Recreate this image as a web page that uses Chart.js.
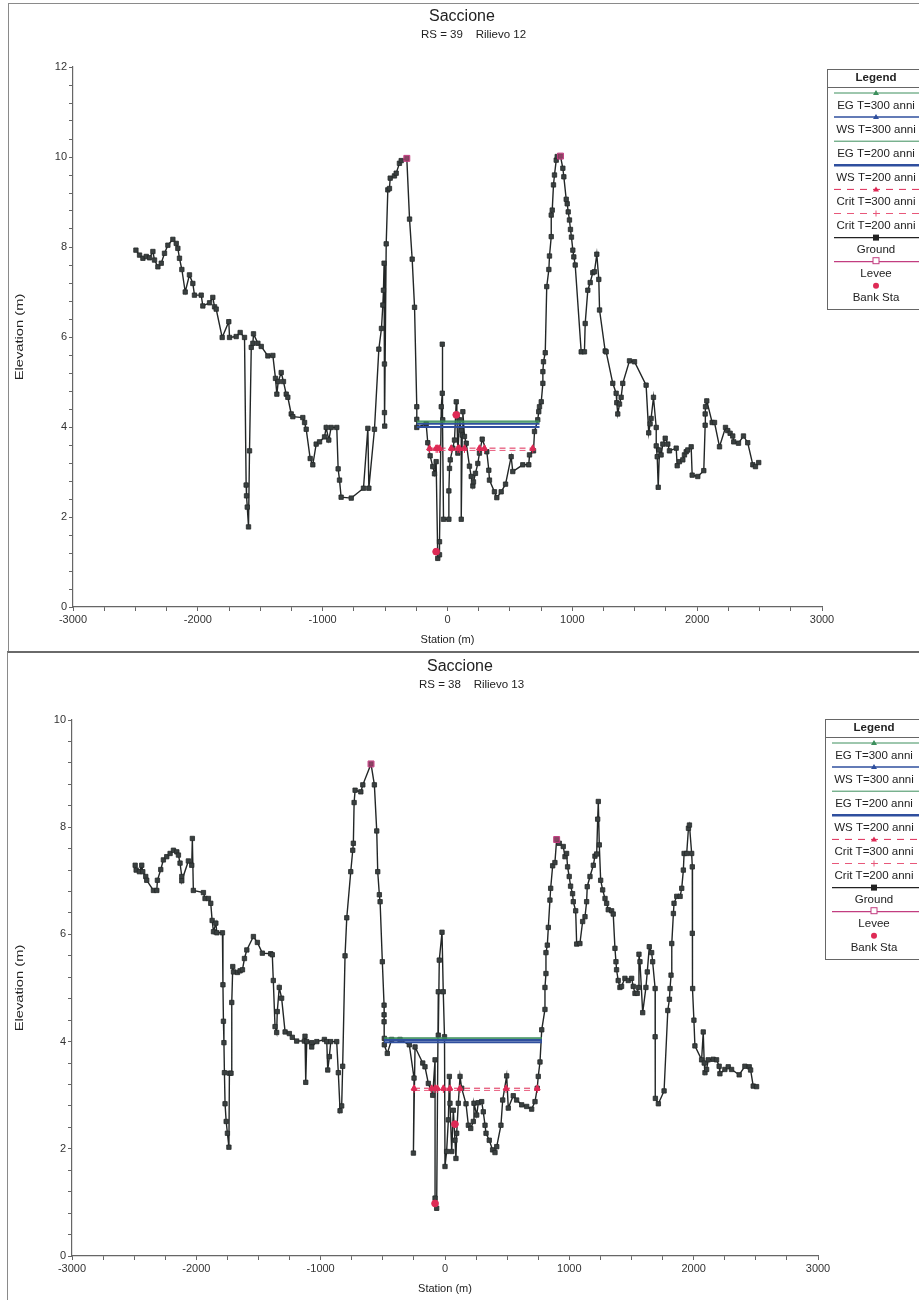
<!DOCTYPE html>
<html>
<head>
<meta charset="utf-8">
<script src="https://cdn.jsdelivr.net/npm/chart.js"></script>
<style>
  body { margin: 0; background: #fff; width: 919px; height: 1300px; overflow: hidden; position: relative; }
  .panel { position: absolute; border: 1px solid #8a8a8a; border-right: none; }
  canvas { position: absolute; left: 0; }
</style>
</head>
<body>
<div class="panel" style="left:8px;top:3px;width:911px;height:647px"></div>
<div class="panel" style="left:7px;top:651px;width:912px;height:660px;border-top:2px solid #6a6a6a"></div>
<canvas id="chartTop" width="919" height="650" style="top:0"></canvas>
<canvas id="chartBottom" width="919" height="650" style="top:650px"></canvas>
<script>
// ---- RS = 39, Rilievo 12 ----
const groundStaTop = [
  -2496, -2467, -2440, -2413, -2387, -2360, -2347, -2320, -2293, -2267, -2240, -2200, -2173, -2160, -2147, -2128,
  -2101, -2067, -2040, -2027, -1973, -1960, -1906, -1880, -1866, -1853, -1805, -1752, -1746, -1693, -1661, -1626,
  -1613, -1610, -1604, -1594, -1586, -1572, -1559, -1554, -1519, -1492, -1439, -1399, -1378, -1367, -1356, -1332,
  -1314, -1292, -1279, -1252, -1239, -1159, -1145, -1132, -1100, -1079, -1052, -1025, -985, -972, -951, -932,
  -887, -876, -865, -852, -771, -673, -638, -630, -585, -550, -529, -518, -513, -508, -505, -505, -503,
  -491, -478, -465, -459, -425, -411, -385, -371, -326, -304, -283, -264, -246, -246, -246,
  -171, -158, -139, -118, -104, -91, -78, -64, -64, -50, -42, -42, -38, -32, 11, 11, 16, 22, 42, 56, 70, 75, 83,
  96, 110, 110, 118, 123, 136, 150, 176, 190, 203, 208, 224, 243, 256, 278, 315, 331, 336, 376, 395, 430, 465,
  510, 523, 603, 651, 657, 689, 697, 723, 731, 737, 751, 764, 764, 769, 783, 795, 812, 817, 831, 831, 839, 849,
  857, 871, 879, 905, 924, 932, 951, 959, 967, 977, 985, 993, 1004, 1012, 1023, 1071, 1097, 1103, 1124, 1143,
  1164, 1177, 1196, 1212, 1218, 1263, 1271, 1324, 1351, 1356, 1364, 1378, 1391, 1404, 1458, 1498, 1591, 1612,
  1623, 1631, 1650, 1672, 1672, 1680, 1688, 1698, 1711, 1725, 1744, 1765, 1778, 1832, 1840, 1858, 1885, 1898,
  1912, 1925, 1952, 1960, 2005, 2053, 2064, 2064, 2067, 2077, 2120, 2139, 2179, 2227, 2245, 2264, 2285, 2293,
  2331, 2371, 2405, 2446, 2467, 2493
];
const groundElevTop = [
  7.93, 7.82, 7.75, 7.79, 7.76, 7.90, 7.71, 7.56, 7.64, 7.86, 8.04, 8.17, 8.08, 7.97, 7.75, 7.50,
  7.00, 7.38, 7.19, 6.93, 6.93, 6.69, 6.76, 6.88, 6.67, 6.62, 5.99, 6.34, 5.99, 6.01, 6.10, 5.99,
  2.71, 2.47, 2.22, 1.78, 3.47, 5.77, 5.86, 6.07, 5.86, 5.79, 5.58, 5.59, 5.08, 4.73, 5.01, 5.21,
  5.01, 4.73, 4.66, 4.29, 4.23, 4.21, 4.10, 3.95, 3.30, 3.16, 3.62, 3.67, 3.78, 3.99, 3.71, 3.99,
  3.99, 3.07, 2.82, 2.44, 2.42, 2.64, 3.97, 2.64, 3.95, 5.73, 6.19, 6.71, 7.04, 7.64, 5.40, 4.32, 4.02,
  8.07, 9.27, 9.30, 9.53, 9.58, 9.64, 9.86, 9.92, 9.97, 8.62, 7.73, 6.66, 4.45, 4.17, 3.99,
  4.07, 3.65, 3.36, 3.12, 2.96, 3.23, 1.08, 1.16, 1.45, 4.45, 4.75, 5.84, 4.16, 1.95, 1.95, 2.58, 3.08, 3.27, 3.53, 3.71, 4.56, 4.28, 3.42,
  4.16, 3.93, 1.95, 3.82, 4.34, 3.79, 3.64, 3.13, 2.90, 2.69, 2.78, 2.97, 3.19, 3.42, 3.73, 3.45, 3.04, 2.82, 2.56, 2.43, 2.56, 2.73,
  3.34, 3.01, 3.16, 3.16, 3.38, 3.47, 3.90, 4.16, 4.34, 4.45, 4.56, 4.97, 5.23, 5.45, 5.65, 7.12, 7.50, 7.80, 8.23, 8.71, 8.82, 9.38,
  9.60, 9.93, 10.01, 10.02, 9.75, 9.56, 9.06, 8.96, 8.78, 8.60, 8.39, 8.22, 7.93, 7.78, 7.60, 5.67, 5.67, 6.30, 7.04, 7.21,
  7.43, 7.45, 7.84, 7.28, 6.60, 5.69, 5.67, 4.97, 4.75, 4.54, 4.29, 4.51, 4.66, 4.97, 5.47, 5.45, 4.93, 3.87,
  4.07, 4.19, 4.66, 3.99, 3.58, 3.34, 2.66, 3.49, 3.38, 3.62, 3.75, 3.62, 3.47, 3.53, 3.14, 3.23, 3.27, 3.38,
  3.45, 3.49, 3.56, 2.93, 2.90, 3.03, 4.04, 4.29, 4.45, 4.58, 4.10, 4.10, 3.56, 3.99, 3.92, 3.86, 3.80, 3.67,
  3.64, 3.80, 3.65, 3.16, 3.12, 3.21
];
const reachTop = [-246, 737];
const waterTop = [4.13, 4.07, 4.11, 4.00];   // EG 300, WS 300, EG 200, WS 200
const critStaTop = [-144, -91, -78, -64, 30, 83, 96, 136, 256, 296, 683];
const critLevelsTop = [3.53, 3.48];           // Crit 300, Crit 200
const leveeStaTop = [-326, 905];
const leveeElevTop = [9.97, 10.02];
const bankStaTop = [-91, 70];
const bankElevTop = [1.23, 4.27];

// ---- RS = 38, Rilievo 13 ----
const groundStaBottom = [
  -2492, -2484, -2458, -2439, -2431, -2407, -2399, -2345, -2318, -2313, -2286, -2265, -2238, -2211, -2184, -2157,
  -2144, -2131, -2117, -2117, -2064, -2037, -2032, -2024, -1943, -1930, -1903, -1884, -1873, -1862, -1843, -1835,
  -1790, -1786, -1782, -1778, -1774, -1769, -1760, -1750, -1738, -1734, -1721, -1715, -1707, -1701, -1669, -1648,
  -1629, -1613, -1594, -1541, -1509, -1469, -1402, -1389, -1381, -1367, -1354, -1349, -1333, -1314, -1286, -1252,
  -1228, -1193, -1131, -1126, -1120, -1112, -1072, -1072, -1031, -970, -951, -943, -930, -919, -871, -858, -844,
  -831, -823, -804, -790, -758, -742, -737, -731, -723, -677, -661, -595, -568, -549, -541, -528, -522, -504,
  -490, -490, -490, -488, -488, -464, -429, -362, -287, -249, -254, -241, -179, -161, -134, -99, -80, -80, -67,
  -54, -54, -46, -24, -14, -4, 0, 13, 27, 35, 40, 54, 67, 80, 88, 94, 107, 121, 134, 169, 188, 207, 228, 233,
  255, 268, 295, 308, 322, 330, 356, 383, 402, 416, 450, 464, 496, 509, 549, 576, 617, 657, 697, 724, 742, 750,
  764, 778, 804, 804, 812, 812, 823, 831, 844, 850, 866, 884, 898, 919, 951, 965, 978, 986, 999, 1010, 1026,
  1032, 1051, 1059, 1085, 1107, 1126, 1139, 1144, 1166, 1193, 1206, 1220, 1228, 1233, 1241, 1252, 1268, 1287,
  1300, 1313, 1340, 1353, 1367, 1375, 1380, 1393, 1407, 1420, 1447, 1474, 1501, 1514, 1528, 1546, 1556, 1560,
  1568, 1590, 1616, 1627, 1643, 1662, 1670, 1690, 1690, 1692, 1716, 1762, 1792, 1805, 1810, 1818, 1824, 1837,
  1842, 1864, 1891, 1904, 1917, 1923, 1944, 1958, 1966, 1984, 1989, 1989, 1992, 2002, 2010, 2064, 2077, 2085,
  2091, 2104, 2117, 2157, 2184, 2205, 2211, 2251, 2278, 2305, 2366, 2412, 2447, 2458, 2479, 2506
];
const groundElevBottom = [
  7.29, 7.20, 7.17, 7.29, 7.17, 7.08, 7.01, 6.82, 6.82, 7.01, 7.21, 7.39, 7.45, 7.51, 7.57, 7.54,
  7.48, 7.33, 7.08, 7.00, 7.37, 7.29, 7.79, 6.82, 6.78, 6.67, 6.67, 6.58, 6.26, 6.05, 6.21, 6.03,
  6.03, 5.06, 4.38, 3.98, 3.42, 2.84, 2.51, 2.29, 2.03, 3.41, 3.41, 4.73, 5.40, 5.30, 5.29, 5.32,
  5.34, 5.55, 5.71, 5.96, 5.85, 5.65, 5.64, 5.62, 5.14, 4.28, 4.17, 4.56, 5.01, 4.81, 4.18, 4.15,
  4.08, 4.01, 4.01, 4.10, 3.24, 4.00, 3.98, 3.90, 4.00, 4.04, 4.00, 3.47, 3.72, 4.00, 4.00, 3.42, 2.71,
  2.80, 3.54, 5.60, 6.31, 7.17, 7.57, 7.70, 8.46, 8.69, 8.66, 8.79, 9.18, 8.79, 7.93, 7.17, 6.74, 6.61, 5.49,
  4.68, 4.50, 4.37, 4.06, 3.94, 3.78, 4.04, 4.04, 3.94, 3.32, 1.92, 3.90, 3.60, 3.53, 3.22, 3.00, 3.66, 1.08, 0.89,
  4.93, 4.12, 5.52, 6.04, 4.93, 4.09, 1.67, 1.95, 2.54, 3.35, 2.85, 1.95, 2.72, 2.16, 1.82, 2.29, 2.85, 3.35, 3.13, 2.84, 2.44, 2.38, 2.51, 2.85,
  2.63, 2.86, 2.88, 2.69, 2.44, 2.29, 2.16, 1.98, 1.93, 2.04, 2.44, 2.91, 3.36, 2.76, 2.99, 2.91, 2.82, 2.79, 2.74, 2.88, 3.13, 3.35,
  3.62, 4.22, 4.60, 5.01, 5.27, 5.66, 5.80, 6.13, 6.64, 6.86, 7.28, 7.34, 7.77, 7.70, 7.64, 7.45, 7.51, 7.26, 7.08, 6.90, 6.76,
  6.61, 6.44, 5.82, 5.83, 6.24, 6.33, 6.61, 6.89, 7.08, 7.29, 7.46, 7.50, 8.15, 8.48, 7.67, 7.01, 6.83, 6.67,
  6.58, 6.46, 6.44, 6.38, 5.74, 5.49, 5.34, 5.14, 5.01, 5.03, 5.18, 5.14, 5.18, 5.03, 4.90, 4.90, 5.01, 5.63,
  5.49, 4.54, 5.01, 5.30, 5.77, 5.66, 5.49, 4.99, 4.09, 2.94, 2.84, 3.08, 4.58, 4.79, 4.99, 5.24, 5.83, 6.39,
  6.58, 6.71, 6.71, 6.86, 7.20, 7.51, 7.51, 7.98, 8.04, 7.51, 7.26, 6.02, 4.99, 4.40, 3.92, 3.66, 4.18, 3.60,
  3.42, 3.48, 3.66, 3.67, 3.66, 3.54, 3.40, 3.48, 3.53, 3.48, 3.38, 3.54, 3.53, 3.47, 3.17, 3.16
];
const reachBottom = [-490, 780];
const waterBottom = [4.07, 4.03, 4.05, 3.99];
const critStaBottom = [-249, -107, -80, -62, -13, 40, 121, 491, 742];
const critLevelsBottom = [3.13, 3.09];
const leveeStaBottom = [-595, 898];
const leveeElevBottom = [9.18, 7.77];
const bankStaBottom = [-80, 80];
const bankElevBottom = [0.98, 2.46];

const legendLabels = ['EG T=300 anni', 'WS T=300 anni', 'EG T=200 anni', 'WS T=200 anni',
  'Crit T=300 anni', 'Crit T=200 anni', 'Ground', 'Levee', 'Bank Sta'];

const FONT = '"Liberation Sans", Arial, sans-serif';
Chart.defaults.font.family = FONT;
Chart.defaults.color = '#333';

const GREEN = '#3c8f5c';
const BLUE = '#2f4f9e';
const RED = '#de2a55';
const MAGENTA = '#c23d80';

function pts(xs, ys) {
  return xs.map((x, i) => ({ x: x, y: ys[i] }));
}
function level(xs, v) {
  return xs.map(x => ({ x: x, y: v }));
}

function buildDatasets(d) {
  return [
    { label: legendLabels[0], data: level(d.reach, d.water[0]), borderColor: GREEN, borderWidth: 1.2,
      pointRadius: 0, legendMarker: 'triangle', legendWidth: 1, order: 4 },
    { label: legendLabels[1], data: level(d.reach, d.water[1]), borderColor: BLUE, borderWidth: 1.8,
      pointRadius: 0, legendMarker: 'triangle', legendWidth: 1.5, order: 3 },
    { label: legendLabels[2], data: level(d.reach, d.water[2]), borderColor: GREEN, borderWidth: 1.2,
      pointRadius: 0, legendWidth: 1, order: 4 },
    { label: legendLabels[3], data: level(d.reach, d.water[3]), borderColor: BLUE, borderWidth: 2,
      pointRadius: 0, legendWidth: 2.5, order: 3 },
    { label: legendLabels[4], data: level(d.critSta, d.crit[0]), borderColor: RED, borderWidth: 1,
      borderDash: [6, 4], pointStyle: 'triangle', pointRadius: 3.4, pointBackgroundColor: RED,
      pointBorderColor: RED, legendMarker: 'triangle', legendDash: [7, 6], legendWidth: 1, order: 2 },
    { label: legendLabels[5], data: level(d.critSta, d.crit[1]), borderColor: '#e8587a', borderWidth: 1,
      borderDash: [6, 4], pointStyle: 'cross', pointRadius: 2.5, pointBorderColor: RED,
      legendMarker: 'plus', legendDash: [7, 6], legendWidth: 1, order: 2 },
    { label: legendLabels[6], data: pts(d.groundSta, d.groundElev), borderColor: '#222626', borderWidth: 1.4,
      pointStyle: 'rect', pointRadius: 3.1, pointBackgroundColor: '#3a4040', pointBorderColor: '#242828',
      pointBorderWidth: 0.8, legendMarker: 'square', legendColor: '#222', legendWidth: 1.2, order: 5 },
    { label: legendLabels[7], data: pts(d.leveeSta, d.leveeElev), showLine: false, borderColor: MAGENTA,
      pointStyle: 'rect', pointRadius: 4.2, pointBackgroundColor: 'rgba(205,70,130,0.55)', pointBorderColor: MAGENTA,
      pointBorderWidth: 1, legendMarker: 'openSquare', legendWidth: 1.2, order: 1 },
    { label: legendLabels[8], data: pts(d.bankSta, d.bankElev), showLine: false, borderColor: RED,
      pointStyle: 'circle', pointRadius: 3.4, pointBackgroundColor: RED, pointBorderColor: RED,
      legendMarker: 'dot', noLine: true, order: 0 }
  ];
}

function drawMarker(ctx, kind, x, y, color) {
  ctx.save();
  ctx.fillStyle = color;
  ctx.strokeStyle = color;
  ctx.setLineDash([]);
  ctx.lineWidth = 1;
  if (kind === 'triangle') {
    ctx.beginPath();
    ctx.moveTo(x, y - 3); ctx.lineTo(x + 3, y + 2); ctx.lineTo(x - 3, y + 2);
    ctx.closePath(); ctx.fill();
  } else if (kind === 'plus') {
    ctx.beginPath();
    ctx.moveTo(x - 3, y); ctx.lineTo(x + 3, y); ctx.moveTo(x, y - 3); ctx.lineTo(x, y + 3);
    ctx.stroke();
  } else if (kind === 'square') {
    ctx.fillRect(x - 3, y - 3, 6, 6);
  } else if (kind === 'openSquare') {
    ctx.fillStyle = '#fff';
    ctx.fillRect(x - 3, y - 4, 6, 6);
    ctx.strokeRect(x - 3, y - 4, 6, 6);
  } else if (kind === 'dot') {
    ctx.beginPath(); ctx.arc(x, y, 3, 0, Math.PI * 2); ctx.fill();
  }
  ctx.restore();
}

// titles, axis titles and the HEC-RAS style legend box
const hecDecor = {
  id: 'hecDecor',
  afterDraw(chart, args, opts) {
    const ctx = chart.ctx;
    const area = chart.chartArea;
    ctx.save();
    ctx.fillStyle = '#222';
    ctx.textBaseline = 'middle';
    ctx.textAlign = 'left';
    ctx.font = '16px ' + FONT;
    ctx.fillText(opts.title, opts.titleX, opts.titleY);
    ctx.font = '11.5px ' + FONT;
    ctx.fillText(opts.subtitle, opts.subX, opts.titleY + 18);

    ctx.textAlign = 'center';
    ctx.font = '11px ' + FONT;
    ctx.fillText('Station (m)', (area.left + area.right) / 2, area.bottom + 33);
    ctx.save();
    ctx.translate(opts.yTitleX, (area.top + area.bottom) / 2);
    ctx.rotate(-Math.PI / 2);
    ctx.scale(1.28, 1);
    ctx.font = '11.5px ' + FONT;
    ctx.fillText('Elevation (m)', 0, 0);
    ctx.restore();

    // legend box
    const L = opts.legendLeft, T = opts.legendTop, W = chart.width - L + 5, H = 240;
    const cx = L + 49;
    ctx.strokeStyle = '#666';
    ctx.lineWidth = 1;
    ctx.strokeRect(L + 0.5, T + 0.5, W, H);
    ctx.beginPath();
    ctx.moveTo(L, T + 18.5); ctx.lineTo(chart.width, T + 18.5);
    ctx.stroke();
    ctx.font = 'bold 11.5px ' + FONT;
    ctx.fillStyle = '#222';
    ctx.fillText('Legend', cx, T + 9);
    ctx.font = '11.5px ' + FONT;
    chart.data.datasets.forEach((ds, i) => {
      const ly = T + 24 + i * 24.1;
      const color = ds.legendColor || ds.borderColor;
      if (!ds.noLine) {
        ctx.save();
        ctx.strokeStyle = color;
        ctx.lineWidth = ds.legendWidth || 1;
        ctx.setLineDash(ds.legendDash || []);
        ctx.beginPath();
        ctx.moveTo(L + 7, ly); ctx.lineTo(chart.width, ly);
        ctx.stroke();
        ctx.restore();
      }
      if (ds.legendMarker) drawMarker(ctx, ds.legendMarker, cx, ly, color);
      ctx.fillStyle = '#222';
      ctx.fillText(ds.label, cx, ly + 12.5);
    });
    ctx.restore();
  }
};

function makeChart(id, d, layout) {
  return new Chart(document.getElementById(id), {
    type: 'scatter',
    data: { datasets: buildDatasets(d) },
    options: {
      responsive: false,
      animation: false,
      devicePixelRatio: 1,
      showLine: true,
      layout: { padding: { top: layout.top, right: layout.right, left: 0, bottom: 0 } },
      elements: { line: { tension: 0 } },
      plugins: {
        legend: { display: false },
        tooltip: { enabled: false },
        hecDecor: layout.decor
      },
      scales: {
        x: {
          type: 'linear', min: -3000, max: 3000,
          afterFit(s) { s.height = layout.xHeight; },
          border: { display: true, color: '#666', width: 1.2 },
          grid: { drawOnChartArea: false, drawTicks: true, tickLength: 4, color: '#666' },
          ticks: {
            stepSize: 250, autoSkip: false, maxRotation: 0, padding: 2,
            font: { size: 11 }, color: '#333',
            callback: v => (Math.abs(v % 1000) < 1e-6 ? String(v) : '')
          }
        },
        y: {
          type: 'linear', min: 0, max: layout.yMax,
          afterFit(s) { s.width = layout.yWidth; },
          border: { display: true, color: '#666', width: 1.2 },
          grid: { drawOnChartArea: false, drawTicks: true, tickLength: 4, color: '#666' },
          ticks: {
            stepSize: 0.4, autoSkip: false, padding: 2,
            font: { size: 11 }, color: '#333',
            callback: v => (Math.abs(v - Math.round(v / 2) * 2) < 1e-6 ? String(Math.round(v)) : '')
          }
        }
      }
    },
    plugins: [hecDecor]
  });
}

makeChart('chartTop', {
  groundSta: groundStaTop, groundElev: groundElevTop, reach: reachTop, water: waterTop,
  critSta: critStaTop, crit: critLevelsTop, leveeSta: leveeStaTop, leveeElev: leveeElevTop,
  bankSta: bankStaTop, bankElev: bankElevTop
}, {
  top: 67, right: 97, yWidth: 73, xHeight: 43, yMax: 12,
  decor: { title: 'Saccione', subtitle: 'RS = 39    Rilievo 12', titleX: 429, titleY: 17, subX: 421,
    yTitleX: 20, legendLeft: 827, legendTop: 69 }
});

makeChart('chartBottom', {
  groundSta: groundStaBottom, groundElev: groundElevBottom, reach: reachBottom, water: waterBottom,
  critSta: critStaBottom, crit: critLevelsBottom, leveeSta: leveeStaBottom, leveeElev: leveeElevBottom,
  bankSta: bankStaBottom, bankElev: bankElevBottom
}, {
  top: 70, right: 101, yWidth: 72, xHeight: 44, yMax: 10,
  decor: { title: 'Saccione', subtitle: 'RS = 38    Rilievo 13', titleX: 427, titleY: 17, subX: 419,
    yTitleX: 20, legendLeft: 825, legendTop: 69 }
});
</script>
</body>
</html>
